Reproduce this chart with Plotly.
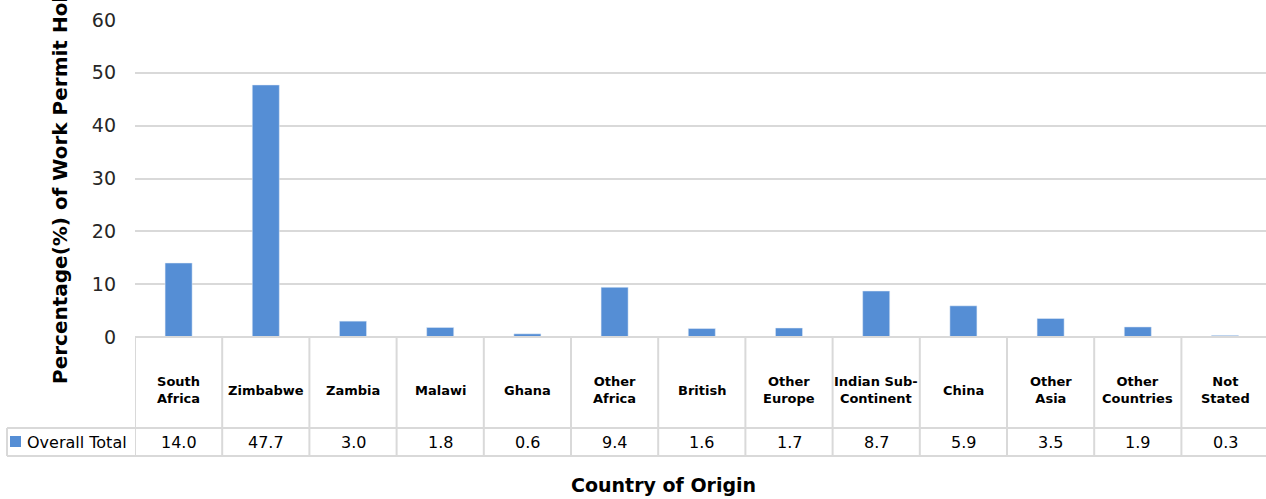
import plotly.graph_objects as go

categories = ["South Africa", "Zimbabwe", "Zambia", "Malawi", "Ghana", "Other Africa",
              "British", "Other Europe", "Indian Sub-Continent", "China", "Other Asia",
              "Other Countries", "Not Stated"]
category_labels = ["South<br>Africa", "Zimbabwe", "Zambia", "Malawi", "Ghana", "Other<br>Africa",
                   "British", "Other<br>Europe", "Indian Sub-<br>Continent", "China", "Other<br>Asia",
                   "Other<br>Countries", "Not<br>Stated"]
overall_total = [14.0, 47.7, 3.0, 1.8, 0.6, 9.4, 1.6, 1.7, 8.7, 5.9, 3.5, 1.9, 0.3]
series_name = "Overall Total"
y_ticks = [0, 10, 20, 30, 40, 50, 60]
x_title = "Country of Origin"
y_title = "Percentage(%) of Work Permit Holders"

BAR = "#558ed5"
GRID = "#d9d9d9"
FONT = "DejaVu Sans"

W, H = 1266, 499
L, T = 135, 20
B = 162
plot_h = H - T - B
plot_w = W - L
COL = 87.2

def py(pix):
    return (H - B - pix) / plot_h

def px(pix):
    return (pix - L) / plot_w

n = len(categories)
x_idx = list(range(n))

fig = go.Figure()
fig.add_trace(go.Bar(x=x_idx, y=overall_total, marker_color=BAR, width=0.31,
                     name=series_name, showlegend=False, hoverinfo="x+y"))

shapes = []
y_top = py(337)
y_mid = py(428)
y_bot = py(456)
x_leg = px(7)
line = dict(color=GRID, width=2)
for i in range(n + 1):
    shapes.append(dict(type="line", xref="x", yref="paper", x0=i - 0.5, x1=i - 0.5,
                       y0=y_top, y1=y_bot, line=line, layer="above"))
shapes.append(dict(type="line", xref="x", yref="paper", x0=-0.5, x1=n - 0.5,
                   y0=y_top, y1=y_top, line=line))
for yy in (y_mid, y_bot):
    shapes.append(dict(type="line", xref="paper", yref="paper", x0=x_leg, x1=1.0,
                       y0=yy, y1=yy, line=line))
shapes.append(dict(type="line", xref="paper", yref="paper", x0=x_leg, x1=x_leg,
                   y0=y_mid, y1=y_bot, line=line))
shapes.append(dict(type="rect", xref="paper", yref="paper", x0=px(10), x1=px(21),
                   y0=py(447), y1=py(436), fillcolor=BAR, line=dict(width=0)))

annotations = []
for i, (lab, v) in enumerate(zip(category_labels, overall_total)):
    annotations.append(dict(x=i, y=py(390), xref="x", yref="paper", text="<b>%s</b>" % lab,
                            showarrow=False, font=dict(family=FONT, size=13, color="#000000"),
                            xanchor="center", yanchor="middle", align="center"))
    annotations.append(dict(x=i, y=py(442), xref="x", yref="paper", text="%.1f" % v,
                            showarrow=False, font=dict(family=FONT, size=16, color="#000000"),
                            xanchor="center", yanchor="middle"))
annotations.append(dict(x=px(25), y=py(442), xref="paper", yref="paper", text=series_name,
                        showarrow=False, font=dict(family=FONT, size=16, color="#000000"),
                        xanchor="left", yanchor="middle"))
annotations.append(dict(x=px(663), y=py(485), xref="paper", yref="paper",
                        text="<b>%s</b>" % x_title, showarrow=False,
                        font=dict(family=FONT, size=19, color="#000000"),
                        xanchor="center", yanchor="middle"))
annotations.append(dict(x=px(60), y=py(386), xref="paper", yref="paper",
                        text="<b>%s</b>" % y_title, showarrow=False, textangle=-90,
                        font=dict(family=FONT, size=20, color="#000000"),
                        xanchor="center", yanchor="bottom"))

fig.update_layout(
    width=W, height=H,
    margin=dict(l=L, r=0, t=T, b=B, pad=0),
    plot_bgcolor="white", paper_bgcolor="white",
    bargap=0.69,
    shapes=shapes, annotations=annotations,
    xaxis=dict(range=[-0.5, -0.5 + plot_w / COL], showticklabels=False, showgrid=False,
               zeroline=False, showline=False, ticks=""),
    yaxis=dict(range=[0, 60], tickvals=y_ticks, showgrid=True, gridcolor=GRID, gridwidth=2,
               zeroline=False, showline=False, ticks="", ticklabelstandoff=18,
               tickfont=dict(family=FONT, size=19, color="#262626")),
)

fig.write_html("out.html", config={"displayModeBar": False},
               post_script="document.body.style.margin='0';")
